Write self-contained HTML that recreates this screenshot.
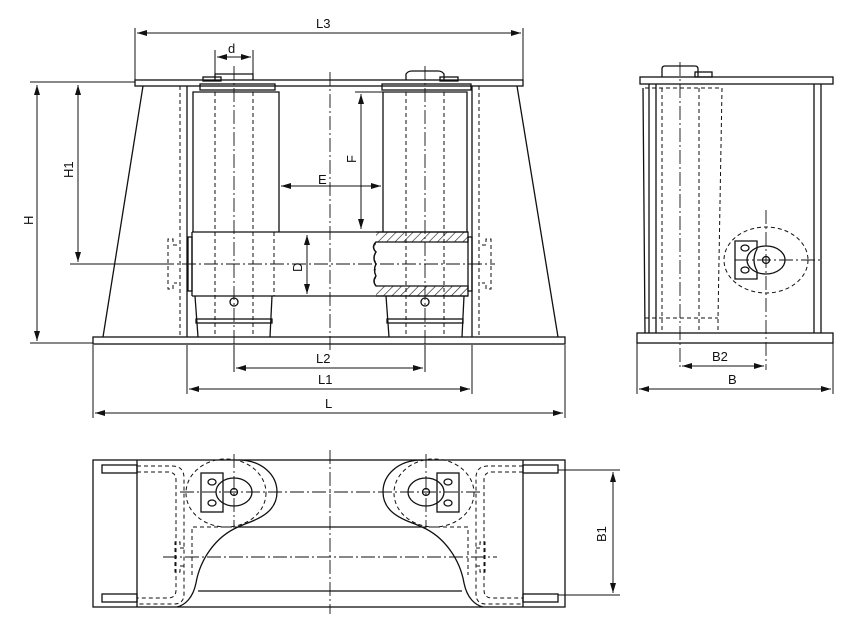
<!DOCTYPE html>
<html><head><style>html,body{margin:0;padding:0;background:#fff}svg{display:block}text{font-family:"Liberation Sans",sans-serif;font-size:13px;fill:#111}</style></head>
<body>
<svg width="850" height="624" viewBox="0 0 850 624" xmlns="http://www.w3.org/2000/svg">
<defs>
<marker id="a" markerWidth="10" markerHeight="6" refX="10" refY="3" orient="auto-start-reverse"><path d="M0,0 L10,3 L0,6 Z" fill="#111"/></marker>
<pattern id="h" width="6" height="6" patternUnits="userSpaceOnUse" patternTransform="rotate(45)"><line x1="0" y1="0" x2="0" y2="6" stroke="#111" stroke-width="1.2"/></pattern>
</defs>
<g fill="none" stroke="#111" stroke-width="1.3">
<!-- FRONT VIEW -->
<rect x="135" y="80" width="388" height="6"/>
<rect x="93" y="337" width="472" height="7"/>
<line x1="143" y1="86" x2="103" y2="337"/>
<line x1="517" y1="86" x2="558" y2="337"/>
<line x1="187" y1="86" x2="187" y2="337"/>
<line x1="472" y1="86" x2="472" y2="337"/>
<g stroke-dasharray="4,3" stroke-width="1">
<line x1="180" y1="86" x2="180" y2="337"/><line x1="479" y1="86" x2="479" y2="337"/>
<line x1="215" y1="92" x2="215" y2="337"/><line x1="253" y1="92" x2="253" y2="337"/>
<line x1="406" y1="92" x2="406" y2="337"/><line x1="444" y1="92" x2="444" y2="337"/>
<line x1="274" y1="232" x2="274" y2="296"/>
<path d="M177,245 h-4 v-6 h-5 v50 h5 v-6 h4"/>
<path d="M482,245 h4 v-6 h5 v50 h-5 v-6 h-4"/>
</g>
<rect x="200" y="84" width="75" height="6"/>
<rect x="203" y="77" width="18" height="4"/>
<path d="M215,80 v-6 h38 v6"/>
<path d="M193,232 V92 H279 V232"/>
<path d="M195,296 L198,337 M272,296 L270,337"/>
<rect x="196" y="319" width="76" height="4"/>
<circle cx="234" cy="302" r="4"/>
<rect x="382" y="84" width="89" height="6"/>
<path d="M406,80 v-6 q2,-3 6,-3 h26 q4,0 6,3 v6"/>
<rect x="440" y="77" width="18" height="4"/>
<path d="M383,232 V92 H467 V232"/>
<path d="M386,296 L389,337 M464,296 L462,337"/>
<rect x="387" y="319" width="76" height="4"/>
<circle cx="425" cy="302" r="4"/>
<path d="M192,232 H468 M192,296 H468 M192,232 V296"/>
<rect x="188" y="237" width="4" height="54"/><rect x="468" y="237" width="4" height="54"/>
<path d="M376,232 h92 v10 h-92 q-5,5 0,10 q-4,6 0,12 q-3,6 0,12" fill="url(#h)"/>
<path d="M376,296 h92 v-10 h-92 q-4,-5 0,-10" fill="url(#h)"/>
<path d="M376,242 q-5,5 0,10 q-4,6 0,12 q-3,6 0,12 q-4,5 0,10"/>
<g stroke-dasharray="14,3,2,3" stroke-width="0.9">
<line x1="330" y1="72" x2="330" y2="350"/>
<line x1="160" y1="264" x2="495" y2="264"/>
<line x1="234" y1="66" x2="234" y2="345"/>
<line x1="425" y1="66" x2="425" y2="345"/>
</g>
<g stroke-width="1">
<line x1="135" y1="28" x2="135" y2="80"/><line x1="523" y1="28" x2="523" y2="80"/>
<line x1="137" y1="33" x2="521" y2="33" marker-start="url(#a)" marker-end="url(#a)"/>
<line x1="215" y1="50" x2="215" y2="74"/><line x1="253" y1="50" x2="253" y2="74"/>
<line x1="217" y1="57" x2="251" y2="57" marker-start="url(#a)" marker-end="url(#a)"/>
<line x1="30" y1="82" x2="135" y2="82"/><line x1="30" y1="343" x2="93" y2="343"/>
<line x1="37" y1="85" x2="37" y2="341" marker-start="url(#a)" marker-end="url(#a)"/>
<line x1="70" y1="264" x2="170" y2="264"/>
<line x1="78" y1="85" x2="78" y2="262" marker-start="url(#a)" marker-end="url(#a)"/>
<line x1="355" y1="92" x2="383" y2="92"/>
<line x1="361" y1="94" x2="361" y2="229" marker-start="url(#a)" marker-end="url(#a)"/>
<line x1="281" y1="186" x2="381" y2="186" marker-start="url(#a)" marker-end="url(#a)"/>
<line x1="307" y1="235" x2="307" y2="294" marker-start="url(#a)" marker-end="url(#a)"/>
<line x1="234" y1="345" x2="234" y2="372"/><line x1="425" y1="345" x2="425" y2="372"/>
<line x1="236" y1="368" x2="423" y2="368" marker-start="url(#a)" marker-end="url(#a)"/>
<line x1="187" y1="345" x2="187" y2="394"/><line x1="472" y1="345" x2="472" y2="394"/>
<line x1="189" y1="389" x2="470" y2="389" marker-start="url(#a)" marker-end="url(#a)"/>
<line x1="93" y1="345" x2="93" y2="418"/><line x1="565" y1="345" x2="565" y2="418"/>
<line x1="95" y1="413" x2="563" y2="413" marker-start="url(#a)" marker-end="url(#a)"/>
</g>
<!-- SIDE VIEW -->
<rect x="640" y="77" width="193" height="7"/>
<rect x="637" y="333" width="196" height="10"/>
<path d="M662,77 v-8 q0,-3 3,-3 h30 q3,0 3,3 v8"/><rect x="695" y="72" width="17" height="5"/>
<path d="M643,88 L645,333 M649,84 V333 M656,84 V333"/>
<path d="M814,84 V333 M821,84 V333"/>
<g stroke-dasharray="4,3" stroke-width="1">
<path d="M645,88 H722 L718,318 L718,330 M645,318 H718"/>
<line x1="662" y1="88" x2="662" y2="333"/><line x1="699" y1="88" x2="699" y2="333"/>
<ellipse cx="766" cy="260" rx="42" ry="33"/>
</g>
<ellipse cx="766" cy="260" rx="19" ry="14"/>
<circle cx="766" cy="260" r="3.5"/>
<path d="M735,241 h22 v8 q-6,11 0,22 v8 h-22 Z"/>
<ellipse cx="745" cy="248" rx="4" ry="3"/><ellipse cx="745" cy="270" rx="4" ry="3"/>
<g stroke-dasharray="14,3,2,3" stroke-width="0.9">
<line x1="680" y1="62" x2="680" y2="370"/>
<line x1="766" y1="210" x2="766" y2="370"/>
<line x1="735" y1="260" x2="821" y2="260"/>
</g>
<g stroke-width="1">
<line x1="682" y1="366" x2="764" y2="366" marker-start="url(#a)" marker-end="url(#a)"/>
<line x1="637" y1="343" x2="637" y2="394"/><line x1="833" y1="343" x2="833" y2="394"/>
<line x1="639" y1="389" x2="831" y2="389" marker-start="url(#a)" marker-end="url(#a)"/>
</g>
<!-- PLAN VIEW -->
<rect x="93" y="460" width="472" height="147"/>
<line x1="137" y1="460" x2="137" y2="607"/><line x1="523" y1="460" x2="523" y2="607"/>
<rect x="102" y="465" width="35" height="8"/><rect x="102" y="594" width="35" height="8"/>
<rect x="523" y="465" width="35" height="8"/><rect x="523" y="594" width="35" height="8"/>
<path d="M238,460 C262,460 277,475 277,492 C277,510 262,518 245,524 L238,527 C215,537 200,560 196,583 C193,598 185,605 177,607"/>
<path d="M422,460 C398,460 383,475 383,492 C383,510 398,518 415,524 L422,527 C445,537 460,560 464,583 C467,598 475,605 483,607"/>
<line x1="238" y1="527" x2="422" y2="527"/><line x1="198" y1="591" x2="462" y2="591"/>
<ellipse cx="234" cy="492" rx="18" ry="14"/><circle cx="234" cy="492" r="3.5"/>
<ellipse cx="426" cy="492" rx="18" ry="14"/><circle cx="426" cy="492" r="3.5"/>
<rect x="201" y="473" width="22" height="39"/><rect x="437" y="473" width="22" height="39"/>
<ellipse cx="212" cy="482" rx="4" ry="3"/><ellipse cx="212" cy="503" rx="4" ry="3"/>
<ellipse cx="448" cy="482" rx="4" ry="3"/><ellipse cx="448" cy="503" rx="4" ry="3"/>
<g stroke-dasharray="4,3" stroke-width="1">
<ellipse cx="226" cy="493" rx="40" ry="34"/>
<ellipse cx="434" cy="493" rx="40" ry="34"/>
<path d="M137,466 H172 q12,0 12,12 V594 q0,10 -10,10 H137"/>
<path d="M137,472 H168 q8,0 8,8 V590 q0,8 -8,8 H137"/>
<path d="M523,466 H488 q-12,0 -12,12 V594 q0,10 10,10 H523"/>
<path d="M523,472 H492 q-8,0 -8,8 V590 q0,8 8,8 H523"/>
<path d="M192,575 V527 H238 M422,527 H468 V575"/>
<path d="M184,548 h-4 v-6 h-5 v30 h5 v-6 h4"/>
<path d="M476,548 h4 v-6 h5 v30 h-5 v-6 h-4"/>
</g>
<g stroke-dasharray="14,3,2,3" stroke-width="0.9">
<line x1="330" y1="450" x2="330" y2="614"/>
<line x1="180" y1="492" x2="480" y2="492"/>
<line x1="163" y1="557" x2="497" y2="557"/>
<line x1="234" y1="454" x2="234" y2="528"/><line x1="426" y1="454" x2="426" y2="528"/>
</g>
<g stroke-width="1">
<line x1="558" y1="470" x2="620" y2="470"/><line x1="558" y1="595" x2="620" y2="595"/>
<line x1="613" y1="472" x2="613" y2="593" marker-start="url(#a)" marker-end="url(#a)"/>
</g>
</g>
<text x="316" y="28" font-size="14">L3</text>
<text x="228" y="53" font-size="14">d</text>
<text x="318" y="184" font-size="10">E</text>
<text x="316" y="363" font-size="11">L2</text>
<text x="318" y="384" font-size="11">L1</text>
<text x="325" y="408" font-size="11">L</text>
<text x="712" y="361" font-size="11">B2</text>
<text x="728" y="384" font-size="11">B</text>
<text transform="translate(33,225) rotate(-90)" font-size="14">H</text>
<text transform="translate(73,178) rotate(-90)" font-size="14">H1</text>
<text transform="translate(356,163) rotate(-90)" font-size="14">F</text>
<text transform="translate(302,272) rotate(-90)" font-size="14">D</text>
<text transform="translate(606,542) rotate(-90)" font-size="14">B1</text>
</svg>
</body></html>
